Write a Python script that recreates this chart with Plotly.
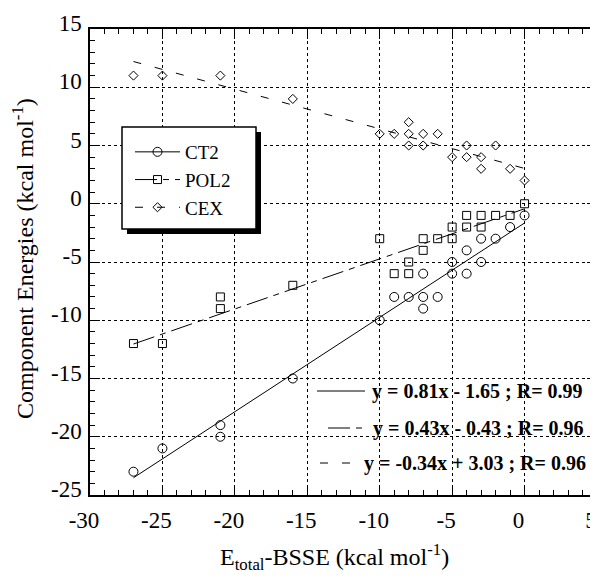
import plotly.graph_objects as go

# ---- data ----
ct2_x = [-27, -25, -21, -21, -16, -10, -9, -8, -7, -6, -7, -7, -5, -4, -5, -3, -4, -3, -2, -1, 0]
ct2_y = [-23, -21, -19, -20, -15, -10, -8, -8, -8, -8, -9, -6, -6, -6, -5, -5, -4, -3, -3, -2, -1]

pol2_x = [-27, -25, -21, -21, -16, -10, -9, -8, -8, -7, -7, -6, -5, -5, -4, -3, -4, -3, -2, -1, 0]
pol2_y = [-12, -12, -8, -9, -7, -3, -6, -6, -5, -4, -3, -3, -3, -2, -2, -2, -1, -1, -1, -1, 0]

cex_x = [-27, -25, -21, -16, -8, -10, -9, -8, -7, -6, -8, -7, -4, -2, -5, -4, -3, -3, -1, 0]
cex_y = [11, 11, 11, 9, 7, 6, 6, 6, 6, 6, 5, 5, 5, 5, 4, 4, 4, 3, 3, 2]

fits = {
    "CT2": (0.81, -1.65, "y = 0.81x - 1.65 ; R= 0.99"),
    "POL2": (0.43, -0.43, "y = 0.43x - 0.43 ; R= 0.96"),
    "CEX": (-0.34, 3.03, "y = -0.34x + 3.03 ; R= 0.96"),
}
fit_x = [-27, 0]

x_ticks = [-30, -25, -20, -15, -10, -5, 0, 5]
y_ticks = [15, 10, 5, 0, -5, -10, -15, -20, -25]

# ---- layout helpers (page pixel -> data / paper); page has an 8px body margin ----
OFF = 8
W, H = 590, 572
L, R, T, B = 82, 1, 21, 85
XR = [-30, 5]
YR = [-25, 15]
pw = W - L - R
ph = H - T - B
def dx(px):
    return XR[0] + (px - OFF - L) / pw * (XR[1] - XR[0])
def dy(py):
    return YR[1] - (py - OFF - T) / ph * (YR[1] - YR[0])
def px_paper(px):
    return (px - OFF - L) / pw
def py_paper(py):
    return 1 - (py - OFF - T) / ph

FONT = "Liberation Serif"
dash_pol = "22px,6px,6px,6px"
dash_cex = "8px,14px"
styles = {
    "CT2": dict(symbol="circle-open", size=9, dash="solid"),
    "POL2": dict(symbol="square-open", size=8, dash=dash_pol),
    "CEX": dict(symbol="diamond-open", size=7, dash=dash_cex),
}
data = {"CT2": (ct2_x, ct2_y), "POL2": (pol2_x, pol2_y), "CEX": (cex_x, cex_y)}

fig = go.Figure()
for name, (xs, ys) in data.items():
    st = styles[name]
    m, b, _ = fits[name]
    fig.add_trace(go.Scatter(x=fit_x, y=[m * v + b for v in fit_x], mode="lines",
                             line=dict(color="black", width=1, dash=st["dash"]),
                             showlegend=False, hoverinfo="skip"))
    fig.add_trace(go.Scatter(x=xs, y=ys, mode="markers",
                             marker=dict(symbol=st["symbol"], size=st["size"], color="black",
                                         line=dict(color="black", width=1)),
                             showlegend=False))
    # legend entry
    fig.add_trace(go.Scatter(x=[None], y=[None], mode="lines+markers", name=name,
                             legendgroup=name,
                             marker=dict(symbol=st["symbol"], size=st["size"], color="black",
                                         line=dict(color="black", width=1)),
                             line=dict(color="black", width=1, dash=st["dash"])))

shapes = []
# legend box shadow + box
shapes.append(dict(type="rect", xref="x", yref="y", x0=dx(127), x1=dx(261), y0=dy(132), y1=dy(234),
                   fillcolor="black", line=dict(width=0), layer="above"))
shapes.append(dict(type="rect", xref="x", yref="y", x0=dx(122), x1=dx(256), y0=dy(127), y1=dy(229),
                   fillcolor="white", line=dict(color="black", width=1.5), layer="above"))
# equation line samples
samples = [("CT2", 317, 365, 391), ("POL2", 328, 363, 428), ("CEX", 320, 353, 463)]
for name, a, b_, py in samples:
    shapes.append(dict(type="line", xref="x", yref="y", x0=dx(a), x1=dx(b_), y0=dy(py), y1=dy(py),
                       line=dict(color="black", width=1, dash=styles[name]["dash"])))

annotations = []
for name, px, py in [("CT2", 370, 391), ("POL2", 371, 428), ("CEX", 362, 463)]:
    annotations.append(dict(x=dx(px), y=dy(py), xref="x", yref="y", text=fits[name][2],
                            showarrow=False, xanchor="left", yanchor="middle",
                            font=dict(family=FONT, size=20, color="black", weight="bold")))
annotations.append(dict(x=px_paper(334), y=py_paper(557), xref="paper", yref="paper",
                        text="E<sub>total</sub>-BSSE (kcal mol<sup>-1</sup>)", showarrow=False,
                        xanchor="center", yanchor="middle",
                        font=dict(family=FONT, size=24, color="black")))
annotations.append(dict(x=px_paper(23), y=py_paper(259), xref="paper", yref="paper",
                        text="Component Energies (kcal mol<sup>-1</sup>)", showarrow=False,
                        textangle=-90, xanchor="center", yanchor="middle",
                        font=dict(family=FONT, size=24, color="black")))

axis_common = dict(showline=True, linecolor="black", linewidth=1.5, mirror="allticks",
                   ticks="inside", ticklen=10, tickwidth=1, tickcolor="black",
                   showgrid=True, gridcolor="black", griddash="dot", gridwidth=1,
                   zeroline=False, automargin=False, ticklabeloverflow="allow",
                   tickfont=dict(family=FONT, size=23, color="black"),
                   minor=dict(dtick=1, ticks="inside", ticklen=5, tickcolor="black", showgrid=False))

fig.update_layout(
    width=W, height=H, margin=dict(l=L, r=R, t=T, b=B, autoexpand=False),
    paper_bgcolor="white", plot_bgcolor="white",
    xaxis=dict(range=XR, tickvals=x_ticks, ticktext=[str(v) for v in x_ticks],
               ticklabelstandoff=4, ticklabelshift=-6, **axis_common),
    yaxis=dict(range=YR, tickvals=y_ticks, ticktext=[str(v) for v in y_ticks],
               ticklabelstandoff=2, ticklabelshift=-6, **axis_common),
    shapes=shapes, annotations=annotations,
    legend=dict(x=px_paper(130), y=py_paper(133), xanchor="left", yanchor="top",
                bgcolor="rgba(0,0,0,0)", borderwidth=0, traceorder="grouped", tracegroupgap=0,
                itemwidth=45,
                font=dict(family=FONT, size=19, color="black")),
    showlegend=True,
)

fig.write_html("out.html")
